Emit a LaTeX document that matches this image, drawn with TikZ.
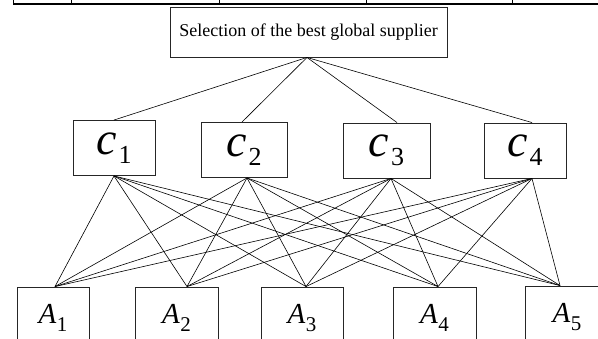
\documentclass[tikz,border=0pt]{standalone}
\usepackage{fontspec}
\setmainfont{Liberation Serif}
\usetikzlibrary{calc}

\tikzset{
  goalbox/.style={draw=black!85, line width=0.9pt, minimum width=277pt,
    minimum height=50pt, inner sep=0pt, font=\fontsize{18}{20}\selectfont},
  critbox/.style={draw=black!85, line width=0.9pt, minimum height=55pt,
    inner sep=0pt, font=\fontsize{46}{50}\selectfont\itshape},
  altbox/.style={draw=black!85, line width=0.9pt, minimum height=62pt,
    inner sep=0pt, font=\fontsize{29}{32}\selectfont\itshape},
  link/.style={line width=0.6pt}
}
\newcommand{\critlabel}[1]{c\kern2pt\raisebox{-9pt}{\fontsize{26}{28}\selectfont\upshape #1}}
\newcommand{\altlabel}[1]{A\kern0.5pt\raisebox{-8pt}{\fontsize{21}{24}\selectfont\upshape #1}}

\begin{document}
\begin{tikzpicture}[x=1pt,y=-1pt]
    \path[use as bounding box] (0,0) rectangle (598,338);
    \clip (0,0) rectangle (598,338);
    % Table rule.
    \draw[line width=1.6pt] (13,4) -- (598,4);
    \foreach \x in {13,71,219,366,512}
    \draw[line width=1pt] (\x,-1) -- (\x,4);
    % Goal.
    \node[goalbox] (goal) at (308.5,32) {Selection of the best global supplier};
    % Criteria.
    \node[critbox, minimum width=82pt] (c1) at (114,148) {\critlabel{1}};
    \node[critbox, minimum width=86pt] (c2) at (244,150) {\critlabel{2}};
    \node[critbox, minimum width=87pt] (c3) at (386.5,150.5) {\critlabel{3}};
    \node[critbox, minimum width=82pt] (c4) at (525,150.5) {\critlabel{4}};
    % Alternatives.
    \node[altbox, minimum width=72pt] (a1) at (53,318) {\altlabel{1}};
    \node[altbox, minimum width=83pt] (a2) at (176.5,318) {\altlabel{2}};
    \node[altbox, minimum width=82pt] (a3) at (302,318) {\altlabel{3}};
    \node[altbox, minimum width=83pt] (a4) at (434.5,318) {\altlabel{4}};
    \node[altbox, minimum width=84pt] (a5) at (567,317) {\altlabel{5}};
    % Links.
    \foreach \c/\t in {c1/0,c2/-2,c3/10.5,c4/7}
    \draw[link] ([xshift=-1.5pt]goal.south) -- ([xshift=\t pt]\c.north);
    \foreach \c/\b in {c1/0,c2/3,c3/4.5,c4/7}
    \foreach \a/\s in {a1/2,a2/10.5,a3/4,a4/3.5,a5/-7}
    \draw[link] ([xshift=\b pt]\c.south) -- ([xshift=\s pt]\a.north);
\end{tikzpicture}
\end{document}
